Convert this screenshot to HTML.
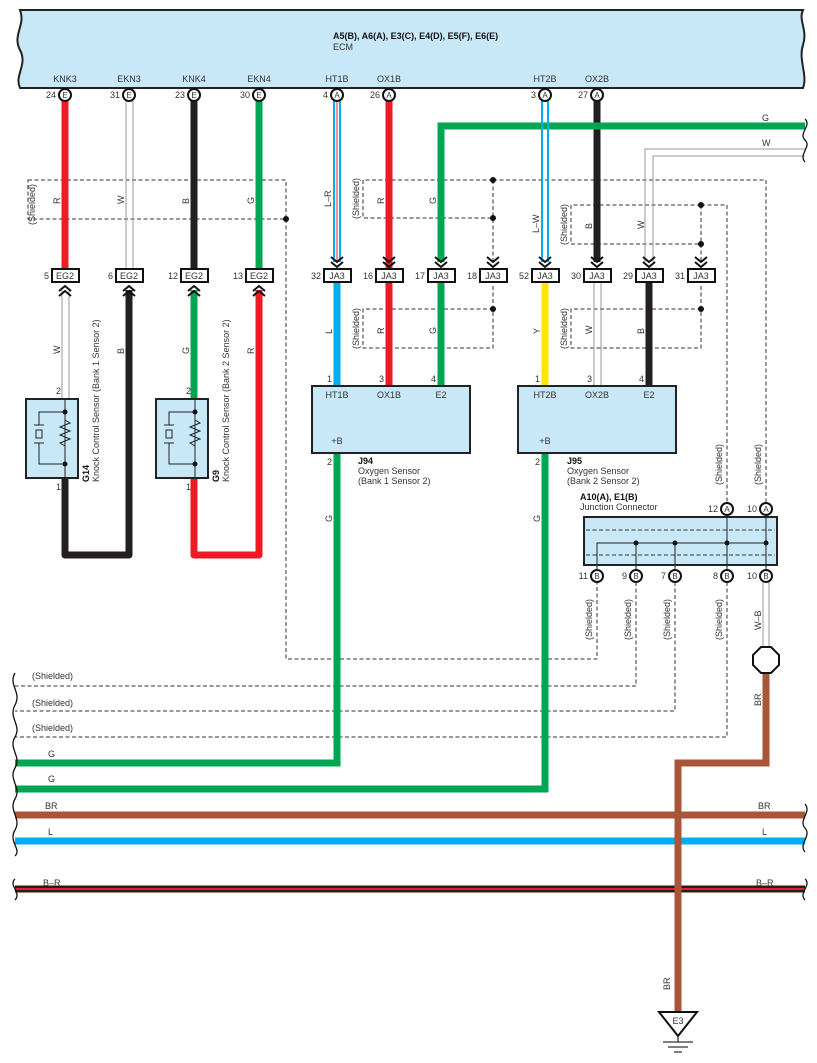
<!DOCTYPE html>
<html><head><meta charset="utf-8"><style>
body{margin:0;background:#fff}
svg{display:block;font-family:"Liberation Sans",sans-serif}
text{font-size:9px;fill:#333}
.b{font-weight:bold;fill:#111}
.sh{fill:none;stroke:#333;stroke-width:1;stroke-dasharray:4,2.5}
.pc{fill:#fff;stroke:#111;stroke-width:2}
.cb{fill:#fff;stroke:#111;stroke-width:2}
.ar{fill:none;stroke:#111;stroke-width:2}
</style></head><body>
<svg width="817" height="1063" viewBox="0 0 817 1063" xmlns="http://www.w3.org/2000/svg">
<!-- ECM -->
<path d="M20,10 H803 C798,20 808,30 803,45 C798,60 808,75 803,88 H20 C14,75 28,65 20,50 C12,35 26,25 20,10 Z" fill="#c8e8f8" stroke="#222" stroke-width="2"/>
<text x="333" y="39" class="b">A5(B), A6(A), E3(C), E4(D), E5(F), E6(E)</text>
<text x="333" y="50">ECM</text>
<g text-anchor="middle">
<text x="65" y="82">KNK3</text><text x="129" y="82">EKN3</text><text x="194" y="82">KNK4</text><text x="259" y="82">EKN4</text>
<text x="337" y="82">HT1B</text><text x="389" y="82">OX1B</text><text x="545" y="82">HT2B</text><text x="597" y="82">OX2B</text>
</g>
<!-- shields -->
<path class="sh" d="M28,180 H286 V219 H28 Z"/>
<path class="sh" d="M286,219 V659 H597 V582"/>
<path class="sh" d="M493,180 H363 V218 H493"/>
<path class="sh" d="M493,180 H766 V502"/>
<path class="sh" d="M493,180 V262"/>
<path class="sh" d="M493,286 V348 H363 V309 H493"/>
<path class="sh" d="M701,205 H571 V244 H701"/>
<path class="sh" d="M701,205 H727 V502"/>
<path class="sh" d="M701,205 V262"/>
<path class="sh" d="M701,286 V348 H571 V309 H701"/>
<path class="sh" d="M636,582 V686 H15"/>
<path class="sh" d="M675,582 V711 H15"/>
<path class="sh" d="M727,582 V737 H15"/>
<g fill="#111"><circle cx="286" cy="219" r="3"/><circle cx="493" cy="180" r="3"/><circle cx="493" cy="218" r="3"/><circle cx="493" cy="309" r="3"/><circle cx="701" cy="205" r="3"/><circle cx="701" cy="244" r="3"/><circle cx="701" cy="309" r="3"/></g>
<!-- wires -->
<g fill="none" stroke-width="7">
<path d="M65,101 V270" stroke="#ed1c24"/>
<path d="M194,101 V270" stroke="#231f20"/>
<path d="M259,101 V270" stroke="#00a651"/>
<path d="M389,101 V386" stroke="#ed1c24"/>
<path d="M597,101 V262" stroke="#231f20"/>
<path d="M441,262 V126 H805" stroke="#00a651"/>
<path d="M441,282 V386" stroke="#00a651"/>
<path d="M337,282 V386" stroke="#00aeef"/>
<path d="M545,282 V386" stroke="#ffe600"/>
<path d="M649,282 V386" stroke="#231f20"/>
<path d="M129,290 V555 H65 V478" stroke="#231f20" stroke-linejoin="round"/>
<path d="M194,290 V399" stroke="#00a651"/>
<path d="M259,290 V555 H194 V478" stroke="#ed1c24" stroke-linejoin="round"/>
<path d="M337,453 V763 H15" stroke="#00a651"/>
<path d="M545,453 V789 H15" stroke="#00a651"/>
<path d="M766,673 V763 H678 V1012" stroke="#a9553a"/>
<path d="M15,815 H805" stroke="#a9553a"/>
<path d="M15,841 H805" stroke="#00aeef"/>
<path d="M15,889 H805" stroke="#231f20"/>
</g>
<path d="M15,889 H805" stroke="#ed1c24" stroke-width="2"/>
<path d="M15,815 H805" stroke="#a9553a" stroke-width="7"/>
<path d="M678,763 V1012" stroke="#a9553a" stroke-width="7"/>
<!-- white/double wires -->
<g fill="none" stroke="#999" stroke-width="1">
<path d="M126,101 V270 M133,101 V270"/>
<path d="M62,290 V399 M69,290 V399"/>
<path d="M594,282 V386 M601,282 V386"/>
<path d="M645,262 V149 H805 M653,262 V156 H805"/>
<path d="M763,582 V648 M769,582 V648"/>
</g>
<g fill="none" stroke-width="2">
<path d="M334,101 V262 M340,101 V262" stroke="#00aeef"/><path d="M337,101 V262" stroke="#ed1c24" stroke-width="1"/>
<path d="M542,101 V262 M548,101 V262" stroke="#00aeef"/>
</g>
<!-- pins top -->
<g>
<circle class="pc" cx="65" cy="95" r="6"/><circle class="pc" cx="129" cy="95" r="6"/><circle class="pc" cx="194" cy="95" r="6"/><circle class="pc" cx="259" cy="95" r="6"/>
<circle class="pc" cx="337" cy="95" r="6"/><circle class="pc" cx="389" cy="95" r="6"/><circle class="pc" cx="545" cy="95" r="6"/><circle class="pc" cx="597" cy="95" r="6"/>
</g>
<g text-anchor="middle" font-size="8">
<text x="65" y="98" style="font-size:8px">E</text><text x="129" y="98" style="font-size:8px">E</text><text x="194" y="98" style="font-size:8px">E</text><text x="259" y="98" style="font-size:8px">E</text>
<text x="337" y="98" style="font-size:8px">A</text><text x="389" y="98" style="font-size:8px">A</text><text x="545" y="98" style="font-size:8px">A</text><text x="597" y="98" style="font-size:8px">A</text>
</g>
<g text-anchor="end">
<text x="56" y="98">24</text><text x="120" y="98">31</text><text x="185" y="98">23</text><text x="250" y="98">30</text>
<text x="328" y="98">4</text><text x="380" y="98">26</text><text x="536" y="98">3</text><text x="588" y="98">27</text>
</g>
<!-- connectors EG2 -->
<g>
<rect class="cb" x="52" y="269" width="27" height="13"/><rect class="cb" x="116" y="269" width="27" height="13"/><rect class="cb" x="181" y="269" width="27" height="13"/><rect class="cb" x="246" y="269" width="27" height="13"/>
</g>
<g text-anchor="middle"><text x="65" y="279">EG2</text><text x="129" y="279">EG2</text><text x="194" y="279">EG2</text><text x="259" y="279">EG2</text></g>
<g text-anchor="end"><text x="49" y="279">5</text><text x="113" y="279">6</text><text x="178" y="279">12</text><text x="243" y="279">13</text></g>
<g class="ar">
<path d="M59,291 L65,286 L71,291 M59,296 L65,291 L71,296"/>
<path d="M123,291 L129,286 L135,291 M123,296 L129,291 L135,296"/>
<path d="M188,291 L194,286 L200,291 M188,296 L194,291 L200,296"/>
<path d="M253,291 L259,286 L265,291 M253,296 L259,291 L265,296"/>
</g>
<!-- JA3 -->
<g>
<rect class="cb" x="324" y="269" width="27" height="13"/><rect class="cb" x="376" y="269" width="27" height="13"/><rect class="cb" x="428" y="269" width="27" height="13"/><rect class="cb" x="480" y="269" width="27" height="13"/>
<rect class="cb" x="532" y="269" width="27" height="13"/><rect class="cb" x="584" y="269" width="27" height="13"/><rect class="cb" x="636" y="269" width="27" height="13"/><rect class="cb" x="688" y="269" width="27" height="13"/>
</g>
<g text-anchor="middle"><text x="337" y="279">JA3</text><text x="389" y="279">JA3</text><text x="441" y="279">JA3</text><text x="493" y="279">JA3</text><text x="545" y="279">JA3</text><text x="597" y="279">JA3</text><text x="649" y="279">JA3</text><text x="701" y="279">JA3</text></g>
<g text-anchor="end"><text x="321" y="279">32</text><text x="373" y="279">16</text><text x="425" y="279">17</text><text x="477" y="279">18</text><text x="529" y="279">52</text><text x="581" y="279">30</text><text x="633" y="279">29</text><text x="685" y="279">31</text></g>
<g class="ar">
<path d="M331,257 L337,262 L343,257 M331,262 L337,267 L343,262"/>
<path d="M383,257 L389,262 L395,257 M383,262 L389,267 L395,262"/>
<path d="M435,257 L441,262 L447,257 M435,262 L441,267 L447,262"/>
<path d="M487,257 L493,262 L499,257 M487,262 L493,267 L499,262"/>
<path d="M539,257 L545,262 L551,257 M539,262 L545,267 L551,262"/>
<path d="M591,257 L597,262 L603,257 M591,262 L597,267 L603,262"/>
<path d="M643,257 L649,262 L655,257 M643,262 L649,267 L655,262"/>
<path d="M695,257 L701,262 L707,257 M695,262 L701,267 L707,262"/>
</g>
<!-- O2 sensors -->
<rect x="312" y="386" width="158" height="67" fill="#c8e8f8" stroke="#222" stroke-width="2"/>
<rect x="518" y="386" width="158" height="67" fill="#c8e8f8" stroke="#222" stroke-width="2"/>
<g text-anchor="middle"><text x="337" y="398">HT1B</text><text x="389" y="398">OX1B</text><text x="441" y="398">E2</text><text x="545" y="398">HT2B</text><text x="597" y="398">OX2B</text><text x="649" y="398">E2</text>
<text x="337" y="444">+B</text><text x="545" y="444">+B</text></g>
<g text-anchor="end"><text x="332" y="382">1</text><text x="384" y="382">3</text><text x="436" y="382">4</text><text x="540" y="382">1</text><text x="592" y="382">3</text><text x="644" y="382">4</text>
<text x="332" y="465">2</text><text x="540" y="465">2</text></g>
<text x="358" y="464" class="b">J94</text><text x="358" y="474">Oxygen Sensor</text><text x="358" y="484">(Bank 1 Sensor 2)</text>
<text x="567" y="464" class="b">J95</text><text x="567" y="474">Oxygen Sensor</text><text x="567" y="484">(Bank 2 Sensor 2)</text>
<!-- knock sensors -->
<g>
<rect x="26" y="399" width="52" height="79" fill="#c8e8f8" stroke="#222" stroke-width="2"/>
<rect x="156" y="399" width="52" height="79" fill="#c8e8f8" stroke="#222" stroke-width="2"/>
<g fill="none" stroke="#222" stroke-width="1">
<path d="M65,399 V478 M65,412 H39 V425 M39,443 V464 H65 M34,425 H44 M34,443 H44 M36,430 H42 V438 H36 Z M65,420 L70,423 L60,427 L70,431 L60,435 L70,439 L60,443 L65,446"/>
<path d="M195,399 V478 M195,412 H169 V425 M169,443 V464 H195 M164,425 H174 M164,443 H174 M166,430 H172 V438 H166 Z M195,420 L200,423 L190,427 L200,431 L190,435 L200,439 L190,443 L195,446"/>
</g>
<g fill="#111"><circle cx="65" cy="412" r="2.5"/><circle cx="65" cy="464" r="2.5"/><circle cx="195" cy="412" r="2.5"/><circle cx="195" cy="464" r="2.5"/></g>
</g>
<g text-anchor="end"><text x="61" y="394">2</text><text x="61" y="490">1</text><text x="191" y="394">2</text><text x="191" y="490">1</text></g>
<text transform="translate(89,482) rotate(-90)" class="b">G14</text>
<text transform="translate(99,482) rotate(-90)">Knock Control Sensor (Bank 1 Sensor 2)</text>
<text transform="translate(219,482) rotate(-90)" class="b">G9</text>
<text transform="translate(229,482) rotate(-90)">Knock Control Sensor (Bank 2 Sensor 2)</text>
<!-- rotated wire labels -->
<g>
<text transform="translate(60,204) rotate(-90)">R</text><text transform="translate(124,204) rotate(-90)">W</text><text transform="translate(189,204) rotate(-90)">B</text><text transform="translate(254,204) rotate(-90)">G</text>
<text transform="translate(35,225) rotate(-90)">(Shielded)</text>
<text transform="translate(331,207) rotate(-90)">L–R</text>
<text transform="translate(384,204) rotate(-90)">R</text><text transform="translate(436,204) rotate(-90)">G</text>
<text transform="translate(359,219) rotate(-90)">(Shielded)</text>
<text transform="translate(539,233) rotate(-90)">L–W</text>
<text transform="translate(592,229) rotate(-90)">B</text><text transform="translate(644,229) rotate(-90)">W</text>
<text transform="translate(567,245) rotate(-90)">(Shielded)</text>
<text transform="translate(332,334) rotate(-90)">L</text><text transform="translate(384,334) rotate(-90)">R</text><text transform="translate(436,334) rotate(-90)">G</text>
<text transform="translate(359,349) rotate(-90)">(Shielded)</text>
<text transform="translate(540,334) rotate(-90)">Y</text><text transform="translate(592,334) rotate(-90)">W</text><text transform="translate(644,334) rotate(-90)">B</text>
<text transform="translate(567,349) rotate(-90)">(Shielded)</text>
<text transform="translate(60,354) rotate(-90)">W</text><text transform="translate(124,354) rotate(-90)">B</text><text transform="translate(189,354) rotate(-90)">G</text><text transform="translate(254,354) rotate(-90)">R</text>
<text transform="translate(332,522) rotate(-90)">G</text><text transform="translate(540,522) rotate(-90)">G</text>
<text transform="translate(722,485) rotate(-90)">(Shielded)</text><text transform="translate(761,485) rotate(-90)">(Shielded)</text>
<text transform="translate(592,640) rotate(-90)">(Shielded)</text><text transform="translate(631,640) rotate(-90)">(Shielded)</text><text transform="translate(670,640) rotate(-90)">(Shielded)</text><text transform="translate(722,640) rotate(-90)">(Shielded)</text>
<text transform="translate(761,630) rotate(-90)">W–B</text>
<text transform="translate(761,706) rotate(-90)">BR</text>
<text transform="translate(670,990) rotate(-90)">BR</text>
</g>
<text x="762" y="121">G</text><text x="762" y="146">W</text>
<!-- junction connector -->
<text x="580" y="500" class="b">A10(A), E1(B)</text><text x="580" y="510">Junction Connector</text>
<rect x="584" y="517" width="193" height="48" fill="#c8e8f8" stroke="#222" stroke-width="2"/>
<path d="M586,530 H775 M586,555 H775" stroke="#333" stroke-dasharray="4,2.5" fill="none"/>
<path d="M597,576 V543 H766 M636,543 V576 M675,543 V576 M727,508 V576 M766,508 V576" stroke="#222" fill="none"/>
<g fill="#111"><circle cx="636" cy="543" r="2.5"/><circle cx="675" cy="543" r="2.5"/><circle cx="727" cy="543" r="2.5"/><circle cx="766" cy="543" r="2.5"/></g>
<g>
<circle class="pc" cx="727" cy="509" r="6"/><circle class="pc" cx="766" cy="509" r="6"/>
<circle class="pc" cx="597" cy="576" r="6"/><circle class="pc" cx="636" cy="576" r="6"/><circle class="pc" cx="675" cy="576" r="6"/><circle class="pc" cx="727" cy="576" r="6"/><circle class="pc" cx="766" cy="576" r="6"/>
</g>
<g text-anchor="middle" style="font-size:8px">
<text x="727" y="512" style="font-size:8px">A</text><text x="766" y="512" style="font-size:8px">A</text>
<text x="597" y="579" style="font-size:8px">B</text><text x="636" y="579" style="font-size:8px">B</text><text x="675" y="579" style="font-size:8px">B</text><text x="727" y="579" style="font-size:8px">B</text><text x="766" y="579" style="font-size:8px">B</text>
</g>
<g text-anchor="end"><text x="718" y="512">12</text><text x="757" y="512">10</text>
<text x="588" y="579">11</text><text x="627" y="579">9</text><text x="666" y="579">7</text><text x="718" y="579">8</text><text x="757" y="579">10</text></g>
<!-- splice octagon -->
<polygon points="761,647 771,647 779,655 779,665 771,673 761,673 753,665 753,655" fill="#fff" stroke="#111" stroke-width="2"/>
<!-- bottom labels -->
<text x="32" y="679">(Shielded)</text><text x="32" y="706">(Shielded)</text><text x="32" y="731">(Shielded)</text>
<text x="48" y="757">G</text><text x="48" y="782">G</text>
<text x="45" y="809">BR</text><text x="48" y="835">L</text><text x="43" y="886">B–R</text>
<text x="758" y="809">BR</text><text x="762" y="835">L</text><text x="756" y="886">B–R</text>
<!-- wavy edges -->
<g fill="none" stroke="#111" stroke-width="1.3">
<path d="M15,673 C8,685 22,692 15,705 C8,718 22,725 15,737 C8,749 22,756 15,768 C8,780 22,787 15,799 C8,811 22,818 15,830 C8,842 22,849 15,856"/>
<path d="M15,879 C8,885 22,893 15,900"/>
<path d="M805,119 C812,126 798,133 805,140 C812,147 798,154 805,162"/>
<path d="M805,804 C812,812 798,820 805,828 C812,836 798,844 805,852"/>
<path d="M805,879 C812,885 798,893 805,900"/>
</g>
<!-- ground -->
<polygon points="659,1012 697,1012 678,1036" fill="#fff" stroke="#111" stroke-width="2"/>
<text x="678" y="1024" text-anchor="middle">E3</text>
<path d="M678,1036 V1042 M663,1042 H693 M668,1047 H688 M674,1052 H682" stroke="#333" stroke-width="1.3"/>
</svg>
</body></html>
